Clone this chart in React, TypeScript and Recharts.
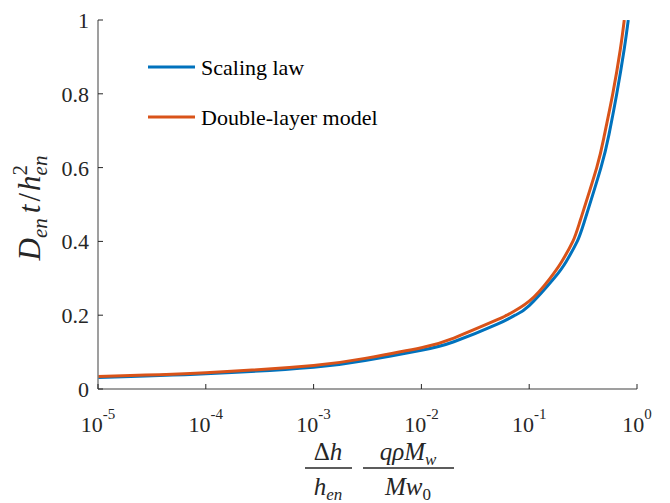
import React from 'react';
import { LineChart, Line, XAxis, YAxis, Legend } from 'recharts';

// values
const scalingX = [1e-5, 1e-4, 1e-3, 3e-3, 0.01, 0.02, 0.05, 0.074, 0.1, 0.17, 0.22, 0.279, 0.33, 0.463, 0.55, 0.649, 0.76, 0.83];
const scalingY = [0.031, 0.041, 0.059, 0.077, 0.105, 0.128, 0.175, 0.2, 0.226, 0.3, 0.345, 0.4, 0.46, 0.6, 0.69, 0.8, 0.92, 1.0];

const doubleX = [1e-5, 1e-4, 1e-3, 3e-3, 0.01, 0.02, 0.05, 0.062, 0.1, 0.156, 0.2, 0.254, 0.3, 0.423, 0.5, 0.596, 0.7, 0.762];
const doubleY = [0.034, 0.044, 0.064, 0.083, 0.112, 0.138, 0.187, 0.2, 0.238, 0.3, 0.345, 0.4, 0.46, 0.6, 0.69, 0.8, 0.92, 1.0];

const xTicks = [1e-5, 1e-4, 1e-3, 1e-2, 1e-1, 1];
const xTickExp = ['-5', '-4', '-3', '-2', '-1', '0'];
const yTicks = [0, 0.2, 0.4, 0.6, 0.8, 1];

const scalingData = scalingX.map((x, i) => ({ x, y: scalingY[i] }));
const doubleData = doubleX.map((x, i) => ({ x, y: doubleY[i] }));

const BLUE = '#0072BD';
const ORANGE = '#D95319';
const AXIS = '#7f7f7f';
const TXT = '#262626';
const FONT = '"Liberation Serif", "DejaVu Serif", serif';
const TICK_LEN = 5;

const BottomTick = (props: any) => {
  const { x, y, index } = props;
  return (
    <g>
      <line x1={x} y1={y} x2={x} y2={y - TICK_LEN} stroke={TXT} strokeWidth={1} />
      <text x={x} y={y + 43} textAnchor="middle" fontFamily={FONT} fontSize={22} fill={TXT}>
        <tspan>10</tspan>
        <tspan fontSize={15} dy={-13}>{xTickExp[index]}</tspan>
      </text>
    </g>
  );
};

const TopTick = (props: any) => {
  const { x, y } = props;
  return <line x1={x} y1={y} x2={x} y2={y + TICK_LEN} stroke={TXT} strokeWidth={1} />;
};

const LeftTick = (props: any) => {
  const { x, y, payload } = props;
  return (
    <g>
      <line x1={x} y1={y} x2={x + TICK_LEN} y2={y} stroke={TXT} strokeWidth={1} />
      <text x={x - 9} y={y + 8} textAnchor="end" fontFamily={FONT} fontSize={22} fill={TXT}>
        {payload.value}
      </text>
    </g>
  );
};

const RightTick = (props: any) => {
  const { x, y } = props;
  return <line x1={x} y1={y} x2={x - TICK_LEN} y2={y} stroke={TXT} strokeWidth={1} />;
};

const XLabel = () => (
  <g fontFamily={FONT} fill={TXT} fontSize={25} fontStyle="italic">
    <text x={328} y={460} textAnchor="middle">
      <tspan fontStyle="normal">Δ</tspan>h
    </text>
    <line x1={305} y1={468} x2={352} y2={468} stroke={TXT} strokeWidth={1.5} />
    <text x={328} y={495} textAnchor="middle">
      h<tspan fontSize={17} dy={5}>en</tspan>
    </text>
    <text x={408} y={460} textAnchor="middle">
      qρM<tspan fontSize={17} dy={5}>w</tspan>
    </text>
    <line x1={363} y1={468} x2={454} y2={468} stroke={TXT} strokeWidth={1.5} />
    <text x={408} y={495} textAnchor="middle">
      Mw<tspan fontSize={17} fontStyle="normal" dy={5}>0</tspan>
    </text>
  </g>
);

const YLabel = () => (
  <text
    x={40}
    y={208}
    transform="rotate(-90, 40, 208)"
    textAnchor="middle"
    fontFamily={FONT}
    fontSize={31}
    fontStyle="italic"
    fill={TXT}
  >
    D<tspan fontSize={21} dy={7}>en</tspan>
    <tspan dy={-7} dx={5}>t</tspan>
    <tspan fontStyle="normal" dx={3}>/</tspan>
    <tspan dx={2}>h</tspan>
    <tspan fontSize={21} dy={7}>en</tspan>
    <tspan fontSize={21} fontStyle="normal" dx={-20} dy={-20}>2</tspan>
  </text>
);

const LegendContent = () => {
  const items = [
    { name: 'Scaling law', color: BLUE },
    { name: 'Double-layer model', color: ORANGE },
  ];
  return (
    <svg width={300} height={100}>
      {items.map((it, i) => (
        <g key={it.name}>
          <line x1={3} y1={22 + i * 50} x2={50} y2={22 + i * 50} stroke={it.color} strokeWidth={3} />
          <text x={56} y={30 + i * 50} fontFamily={FONT} fontSize={22} fill="#000">
            {it.name}
          </text>
        </g>
      ))}
    </svg>
  );
};

export default function App() {
  return (
    <div style={{ position: 'absolute', left: 0, top: 0, background: '#fff' }}>
      <LineChart width={670} height={503} margin={{ top: 20, right: 33, left: 0, bottom: 0 }}>
        <XAxis
          dataKey="x"
          type="number"
          scale="log"
          domain={[1e-5, 1]}
          ticks={xTicks}
          allowDataOverflow
          height={114}
          tickSize={0}
          tickMargin={0}
          tickLine={false}
          axisLine={{ stroke: AXIS, strokeWidth: 1.5 }}
          tick={BottomTick}
          interval={0}
          label={{ content: XLabel }}
        />
        <XAxis
          xAxisId="top"
          orientation="top"
          dataKey="x"
          type="number"
          scale="log"
          domain={[1e-5, 1]}
          ticks={xTicks}
          allowDataOverflow
          height={0}
          tickSize={0}
          tickMargin={0}
          tickLine={false}
          axisLine={{ stroke: AXIS, strokeWidth: 1.5 }}
          tick={TopTick}
          interval={0}
        />
        <YAxis
          type="number"
          domain={[0, 1]}
          ticks={yTicks}
          allowDataOverflow
          width={98}
          tickSize={0}
          tickMargin={0}
          tickLine={false}
          axisLine={{ stroke: AXIS, strokeWidth: 1.5 }}
          tick={LeftTick}
          interval={0}
          label={{ content: YLabel }}
        />
        <YAxis
          yAxisId="right"
          orientation="right"
          type="number"
          domain={[0, 1]}
          ticks={yTicks}
          allowDataOverflow
          width={0}
          tickSize={0}
          tickMargin={0}
          tickLine={false}
          axisLine={{ stroke: AXIS, strokeWidth: 1.5 }}
          tick={RightTick}
          interval={0}
        />
        <Legend
          layout="vertical"
          verticalAlign="middle"
          align="center"
          content={LegendContent}
          wrapperStyle={{ left: 145, top: 45, width: 300, height: 100 }}
        />
        <Line
          data={scalingData}
          dataKey="y"
          name="Scaling law"
          type="natural"
          stroke={BLUE}
          strokeWidth={3}
          dot={false}
          isAnimationActive={false}
        />
        <Line
          data={doubleData}
          dataKey="y"
          name="Double-layer model"
          type="natural"
          stroke={ORANGE}
          strokeWidth={3}
          dot={false}
          isAnimationActive={false}
        />
      </LineChart>
    </div>
  );
}
